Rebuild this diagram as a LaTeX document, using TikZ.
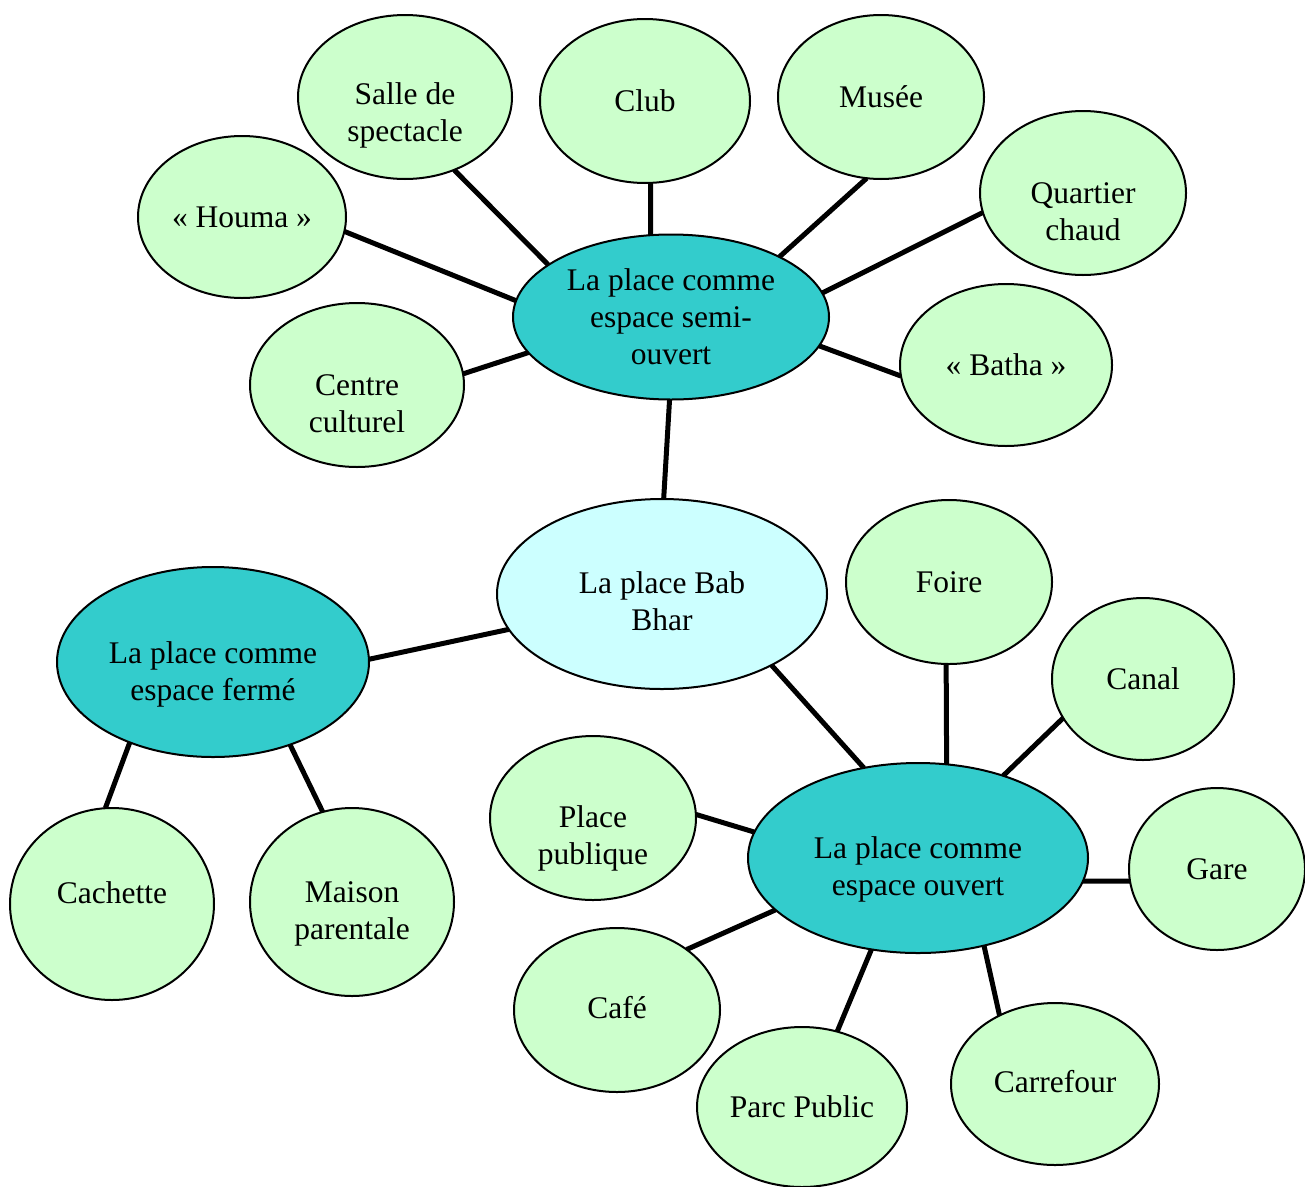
\documentclass[tikz,border=0pt]{standalone}
\usepackage{fontspec}
\setmainfont{Liberation Serif}
\usetikzlibrary{shapes.geometric,backgrounds}
\definecolor{leafgreen}{HTML}{CCFFCC}
\definecolor{hubteal}{HTML}{33CCCC}
\definecolor{corecyan}{HTML}{CCFFFF}
\tikzset{
  bubble/.style={ellipse, draw=black, line width=2pt, inner sep=0pt, outer sep=0pt,
    align=center, font=\fontsize{31.5}{37}\selectfont},
  leaf/.style={bubble, fill=leafgreen},
  hub/.style={bubble, fill=hubteal},
  core/.style={bubble, fill=corecyan},
  lbl/.style={inner sep=0pt, align=center, font=\fontsize{31.5}{37}\selectfont},
  link/.style={draw=black, line width=5pt},
}
\begin{document}
\begin{tikzpicture}[x=1pt,y=-1pt]
\useasboundingbox (0,0) rectangle (1305,1186);
% leaves around semi-ouvert
\node[leaf, minimum width=214pt, minimum height=164pt] (salle) at (405,97) {};
\node[lbl] (salle-t) at ([yshift=-18pt]salle.center) {Salle de\\spectacle};
\node[leaf, minimum width=210pt, minimum height=164pt] (club) at (645,101) {Club};
\node[leaf, minimum width=206pt, minimum height=164pt] (musee) at (881,97) {Musée};
\node[leaf, minimum width=206pt, minimum height=164pt] (quartier) at (1083,193) {};
\node[lbl] (quartier-t) at ([yshift=-19pt]quartier.center) {Quartier\\chaud};
\node[leaf, minimum width=208pt, minimum height=162pt] (houma) at (242,217) {« Houma »};
\node[leaf, minimum width=212pt, minimum height=162pt] (batha) at (1006,365) {« Batha »};
\node[leaf, minimum width=214pt, minimum height=164pt] (centre) at (357,385) {};
\node[lbl] (centre-t) at ([yshift=-19pt]centre.center) {Centre\\culturel};
\node[hub, minimum width=316pt, minimum height=165pt] (semi) at (671,317) {La place comme\\espace semi-\\ouvert};
% core
\node[core, minimum width=330pt, minimum height=190pt] (bab) at (662,594) {};
\node[lbl] (bab-t) at ([yshift=-7pt]bab.center) {La place Bab\\Bhar};
% ferme
\node[hub, minimum width=312pt, minimum height=190pt] (ferme) at (213,662) {};
\node[lbl] (ferme-t) at ([yshift=-12pt]ferme.center) {La place comme\\espace fermé};
\node[leaf, minimum width=204pt, minimum height=192pt] (cachette) at (112,904) {};
\node[lbl] (cachette-t) at ([yshift=11pt]cachette.center) {Cachette};
\node[leaf, minimum width=204pt, minimum height=188pt] (maison) at (352,902) {};
\node[lbl] (maison-t) at ([yshift=-12pt]maison.center) {Maison\\parentale};
% ouvert
\node[hub, minimum width=340pt, minimum height=190pt] (ouvert) at (918,858) {};
\node[lbl] (ouvert-t) at ([yshift=-11pt]ouvert.center) {La place comme\\espace ouvert};
\node[leaf, minimum width=206pt, minimum height=164pt] (foire) at (949,582) {Foire};
\node[leaf, minimum width=182pt, minimum height=162pt] (canal) at (1143,679) {Canal};
\node[leaf, minimum width=206pt, minimum height=164pt] (placepub) at (593,818) {};
\node[lbl] (placepub-t) at ([yshift=-20pt]placepub.center) {Place\\publique};
\node[leaf, minimum width=176pt, minimum height=162pt] (gare) at (1217,869) {Gare};
\node[leaf, minimum width=206pt, minimum height=164pt] (cafe) at (617,1010) {};
\node[lbl] (cafe-t) at ([yshift=2pt]cafe.center) {Café};
\node[leaf, minimum width=210pt, minimum height=160pt] (parc) at (802,1107) {Parc Public};
\node[leaf, minimum width=208pt, minimum height=162pt] (carrefour) at (1055,1084) {};
\node[lbl] (carrefour-t) at ([yshift=2pt]carrefour.center) {Carrefour};
\begin{pgfonlayer}{background}
\draw[link] (salle.-56) -- (semi.157);
\draw[link] (club.-86) -- (semi.104);
\draw[link] (musee.-100) -- (semi.29);
\draw[link] (quartier.191) -- (semi.9);
\draw[link] (houma.-8) -- (semi.174);
\draw[link] (batha.186) -- (semi.-11);
\draw[link] (centre.6) -- (semi.194);
\draw[link] (bab.89) -- (semi.-91);
\draw[link] (bab.193) -- (ferme.1.5);
\draw[link] (bab.-33) -- (ouvert.121);
\draw[link] (ferme.-136) -- (cachette.94);
\draw[link] (ferme.-47) -- (maison.108);
\draw[link] (ouvert.73) -- (foire.-92);
\draw[link] (ouvert.44) -- (canal.206);
\draw[link] (ouvert.171) -- (placepub.2);
\draw[link] (ouvert.-8) -- (gare.188);
\draw[link] (ouvert.200) -- (cafe.41);
\draw[link] (ouvert.-117) -- (parc.65);
\draw[link] (ouvert.-53) -- (carrefour.129);
\end{pgfonlayer}
\end{tikzpicture}
\end{document}
